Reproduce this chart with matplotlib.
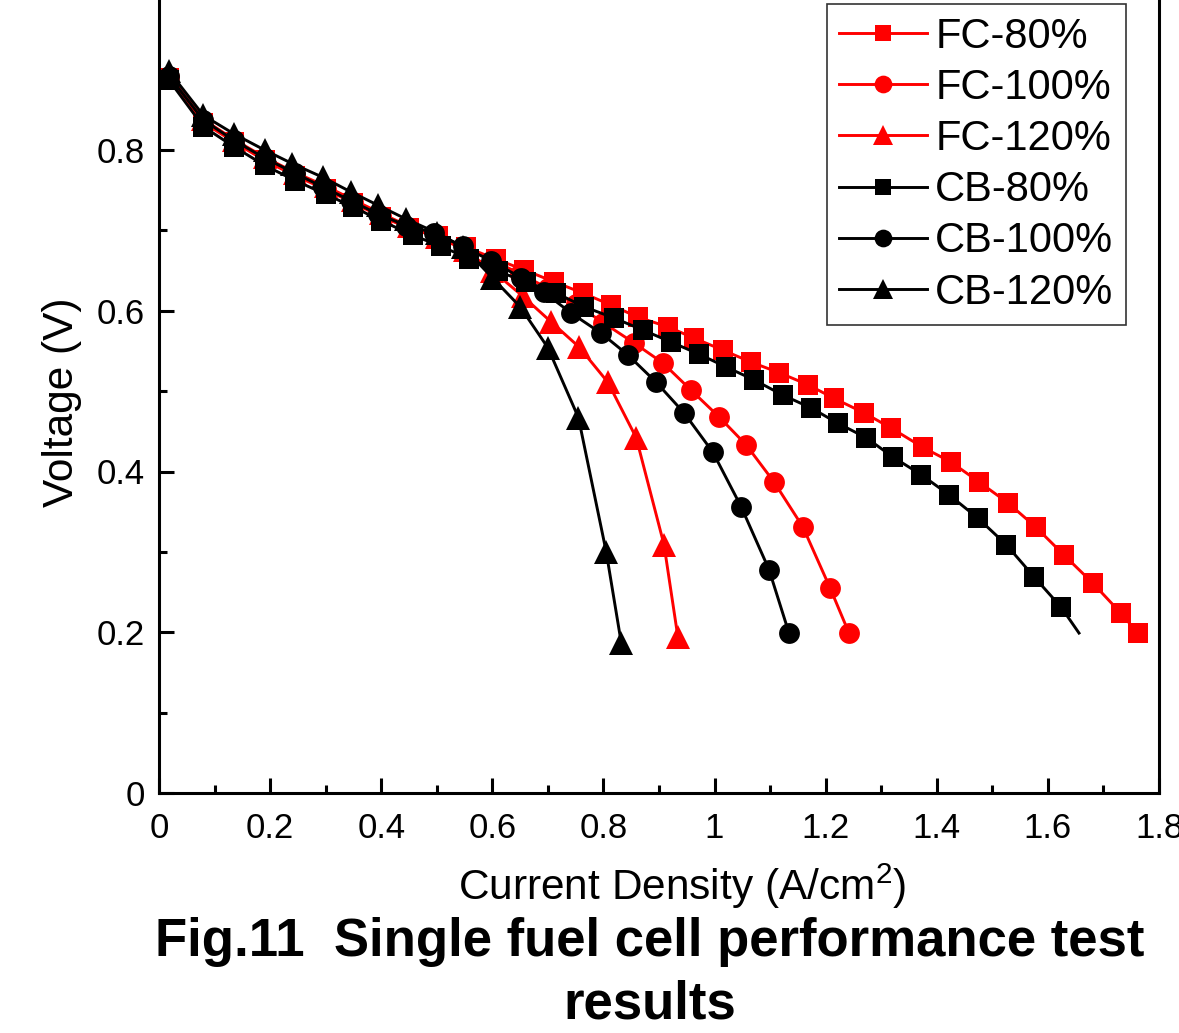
import matplotlib
matplotlib.use('Agg')
import matplotlib.pyplot as plt
from matplotlib.ticker import FixedLocator, MultipleLocator, FuncFormatter

plt.rcParams['font.family'] = ['Liberation Sans', 'DejaVu Sans']
plt.rcParams['mathtext.fontset'] = 'custom'
plt.rcParams['mathtext.rm'] = 'Liberation Sans'
plt.rcParams['mathtext.it'] = 'Liberation Sans:italic'

# current density (A/cm2) and voltage (V)
fc80_j = [0.018, 0.08, 0.135, 0.19, 0.245, 0.30, 0.35, 0.40, 0.45, 0.502, 0.553, 0.607, 0.657,
          0.711, 0.763, 0.814, 0.862, 0.916, 0.963, 1.015, 1.066, 1.116, 1.168, 1.215, 1.269,
          1.318, 1.375, 1.425, 1.476, 1.528, 1.578, 1.629, 1.681, 1.731, 1.762]
fc80_v = [0.890, 0.834, 0.810, 0.787, 0.768, 0.751, 0.734, 0.717, 0.703, 0.693, 0.679, 0.664, 0.651,
          0.636, 0.622, 0.607, 0.592, 0.580, 0.566, 0.551, 0.536, 0.523, 0.508, 0.491, 0.473,
          0.454, 0.430, 0.412, 0.387, 0.361, 0.331, 0.296, 0.261, 0.224, 0.199]

fc100_j = [0.018, 0.08, 0.135, 0.19, 0.245, 0.30, 0.35, 0.40, 0.45, 0.50, 0.55, 0.60, 0.65, 0.70,
           0.75, 0.80, 0.855, 0.907, 0.958, 1.008, 1.057, 1.107, 1.159, 1.208, 1.242]
fc100_v = [0.891, 0.836, 0.811, 0.788, 0.769, 0.752, 0.735, 0.718, 0.703, 0.692, 0.678, 0.663, 0.646, 0.628,
           0.608, 0.585, 0.560, 0.535, 0.501, 0.468, 0.433, 0.387, 0.331, 0.255, 0.199]

fc120_j = [0.018, 0.08, 0.135, 0.19, 0.245, 0.30, 0.35, 0.40, 0.45, 0.50, 0.55, 0.60, 0.655,
           0.706, 0.756, 0.808, 0.859, 0.909, 0.934]
fc120_v = [0.893, 0.838, 0.813, 0.791, 0.772, 0.755, 0.738, 0.721, 0.705, 0.692, 0.676, 0.650, 0.618,
           0.586, 0.555, 0.511, 0.442, 0.309, 0.194]

cb80_j = [0.018, 0.08, 0.135, 0.19, 0.245, 0.30, 0.35, 0.40, 0.457, 0.508, 0.558, 0.610, 0.661,
          0.715, 0.765, 0.819, 0.871, 0.922, 0.972, 1.021, 1.071, 1.123, 1.174, 1.222, 1.273,
          1.321, 1.372, 1.422, 1.474, 1.525, 1.575, 1.624, 1.656]
cb80_v = [0.887, 0.829, 0.804, 0.781, 0.762, 0.745, 0.729, 0.712, 0.694, 0.680, 0.665, 0.649, 0.636,
          0.622, 0.605, 0.591, 0.576, 0.561, 0.546, 0.530, 0.514, 0.495, 0.479, 0.460, 0.442,
          0.418, 0.396, 0.371, 0.342, 0.309, 0.269, 0.231, 0.199]

cb100_j = [0.018, 0.08, 0.135, 0.19, 0.245, 0.295, 0.345, 0.395, 0.445, 0.495, 0.547, 0.598, 0.652,
           0.693, 0.742, 0.796, 0.844, 0.895, 0.945, 0.997, 1.048, 1.098, 1.134]
cb100_v = [0.892, 0.837, 0.812, 0.790, 0.771, 0.754, 0.737, 0.720, 0.706, 0.697, 0.680, 0.662, 0.641,
           0.623, 0.597, 0.572, 0.545, 0.511, 0.473, 0.424, 0.356, 0.278, 0.199]

cb120_j = [0.018, 0.08, 0.135, 0.19, 0.24, 0.295, 0.345, 0.395, 0.445, 0.50, 0.548, 0.60, 0.65,
           0.70, 0.755, 0.805, 0.832]
cb120_v = [0.898, 0.843, 0.820, 0.800, 0.783, 0.766, 0.748, 0.731, 0.714, 0.697, 0.679, 0.641, 0.605,
           0.554, 0.467, 0.300, 0.187]

series = [
    ('FC-80%', fc80_j, fc80_v, 'red', 's', 14),
    ('FC-100%', fc100_j, fc100_v, 'red', 'o', 15),
    ('FC-120%', fc120_j, fc120_v, 'red', '^', 17),
    ('CB-80%', cb80_j, cb80_v, 'black', 's', 14),
    ('CB-100%', cb100_j, cb100_v, 'black', 'o', 15),
    ('CB-120%', cb120_j, cb120_v, 'black', '^', 17),
]

W, H = 1179, 1033
fig = plt.figure(figsize=(W / 100, H / 100), dpi=100)
ax = fig.add_axes([159 / W, (H - 793) / H, 1000 / W, 803.75 / H])

for name, j, v, col, mk, ms in series:
    ax.plot(j, v, color=col, marker=mk, markersize=ms, linewidth=2.1, label=name,
            markeredgewidth=0)
# the last point of CB-80% has no symbol in the original
ax.lines[3].set_markevery(list(range(len(cb80_j) - 1)))

ax.set_xlim(0, 1.8)
ax.set_ylim(0, 1.0)
ax.xaxis.set_major_locator(MultipleLocator(0.2))
ax.xaxis.set_minor_locator(MultipleLocator(0.1))
ax.yaxis.set_major_locator(FixedLocator([0, 0.2, 0.4, 0.6, 0.8]))
ax.yaxis.set_minor_locator(MultipleLocator(0.1))
fmt = FuncFormatter(lambda val, pos: '%g' % round(val, 2))
ax.xaxis.set_major_formatter(fmt)
ax.yaxis.set_major_formatter(fmt)

for s in ax.spines.values():
    s.set_linewidth(2.2)
ax.tick_params(which='both', direction='in', width=2.2, labelsize=25, top=False, right=False)
ax.tick_params(which='major', length=11)
ax.tick_params(which='minor', length=6)
ax.tick_params(axis='x', pad=14)
ax.tick_params(axis='y', pad=10)

ax.set_xlabel('Current Density (A/cm$^2$)', fontsize=30.5, va='center')
ax.xaxis.set_label_coords(0.523, -0.116)
ax.set_ylabel('Voltage (V)', fontsize=30.5, va='center')
ax.yaxis.set_label_coords(-0.097, 0.4865)

leg = ax.legend(loc='upper right', bbox_to_anchor=(1126 / W, 1 - 4 / H),
                bbox_transform=fig.transFigure, borderaxespad=0, fontsize=30,
                fancybox=False, framealpha=1, edgecolor='#333333', handlelength=2.1,
                handletextpad=0.2, labelspacing=0.27, borderpad=0.3, markerscale=0.85)
leg.get_frame().set_linewidth(1.2)

fig.text(650 / W, 1 - 917 / H, 'Fig.11  Single fuel cell performance test\nresults',
         ha='center', va='top', fontsize=38, fontweight='bold', linespacing=1.33)

fig.savefig('out.png', dpi=100)
